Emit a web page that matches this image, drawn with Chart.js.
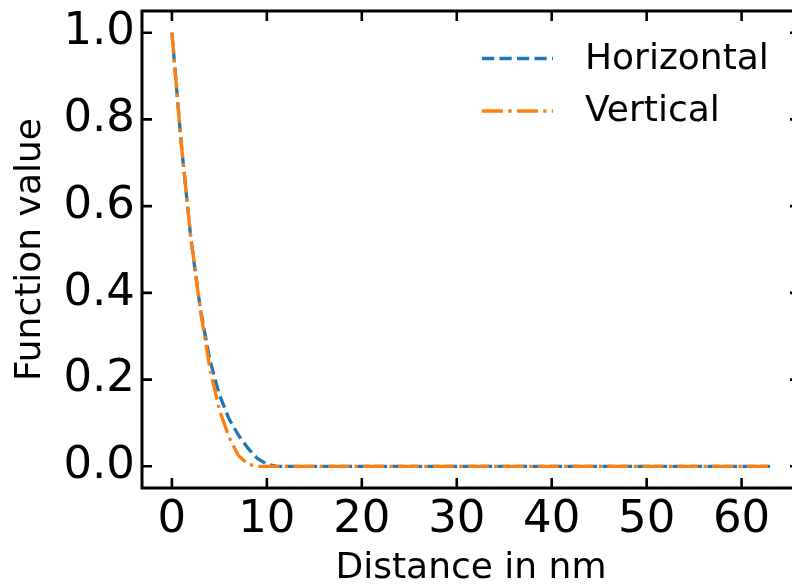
<!DOCTYPE html>
<html>
<head>
<meta charset="utf-8">
<script src="https://cdn.jsdelivr.net/npm/chart.js@4.4.1/dist/chart.umd.min.js"></script>
<style>
  html, body { margin: 0; padding: 0; background: #fff; overflow: hidden; }
  #wrap { position: relative; width: 802px; height: 586px; }
</style>
</head>
<body>
<div id="wrap"><canvas id="grafica"></canvas></div>
<script>
// Datos (distancia en nm, valor de la función)
const distance = [0, 1, 2, 3, 4, 5, 6, 7, 8, 9, 10, 11, 12, 13, 14, 15, 16, 17, 18, 19, 20,
  21, 22, 23, 24, 25, 26, 27, 28, 29, 30, 31, 32, 33, 34, 35, 36, 37, 38, 39, 40,
  41, 42, 43, 44, 45, 46, 47, 48, 49, 50, 51, 52, 53, 54, 55, 56, 57, 58, 59, 60,
  61, 62, 63];
const horizontal = [1.0, 0.74, 0.525, 0.362, 0.245, 0.165, 0.11, 0.072, 0.042, 0.018, 0.005, 0, 0, 0, 0, 0, 0, 0, 0, 0, 0,
  0, 0, 0, 0, 0, 0, 0, 0, 0, 0, 0, 0, 0, 0, 0, 0, 0, 0, 0, 0,
  0, 0, 0, 0, 0, 0, 0, 0, 0, 0, 0, 0, 0, 0, 0, 0, 0, 0, 0, 0,
  0, 0, 0];
const vertical = [1.0, 0.74, 0.525, 0.36, 0.225, 0.13, 0.068, 0.025, 0.005, 0, 0, 0, 0, 0, 0, 0, 0, 0, 0, 0, 0,
  0, 0, 0, 0, 0, 0, 0, 0, 0, 0, 0, 0, 0, 0, 0, 0, 0, 0, 0, 0,
  0, 0, 0, 0, 0, 0, 0, 0, 0, 0, 0, 0, 0, 0, 0, 0, 0, 0, 0, 0,
  0, 0, 0];
const seriesNames = ['Horizontal', 'Vertical'];
const xTicks = [0, 10, 20, 30, 40, 50, 60];
const yTicks = [0.0, 0.2, 0.4, 0.6, 0.8, 1.0];

const FONT = 'DejaVu Sans';
const BLUE = '#1f77b4';
const ORANGE = '#ff7f0e';
const LW = 3.3;
const DASH_H = [12.2, 5.3];
const DASH_V = [21, 5.3, 3.3, 5.3];

function toPoints(xs, ys) {
  return xs.map((x, i) => ({ x: x, y: ys[i] }));
}

// marco y marcas hacia dentro, estilo matplotlib
const framePlugin = {
  id: 'frame',
  afterDraw(chart) {
    const ctx = chart.ctx;
    const a = chart.chartArea;
    const sx = chart.scales.x, sy = chart.scales.y;
    const tl = 10;
    ctx.save();
    ctx.strokeStyle = '#000';
    ctx.lineWidth = 2.6;
    ctx.beginPath();
    xTicks.forEach(v => {
      const px = sx.getPixelForValue(v);
      ctx.moveTo(px, a.bottom); ctx.lineTo(px, a.bottom - tl);
      ctx.moveTo(px, a.top); ctx.lineTo(px, a.top + tl);
    });
    yTicks.forEach(v => {
      const py = sy.getPixelForValue(v);
      ctx.moveTo(a.left, py); ctx.lineTo(a.left + tl, py);
      ctx.moveTo(a.right, py); ctx.lineTo(a.right - tl, py);
    });
    ctx.stroke();
    ctx.lineWidth = 3;
    ctx.strokeRect(a.left, a.top, a.right - a.left, a.bottom - a.top);

    // leyenda
    const items = [
      { text: seriesNames[0], color: BLUE, dash: DASH_H, y: 58.5 },
      { text: seriesNames[1], color: ORANGE, dash: DASH_V, y: 111 }
    ];
    ctx.font = '36px "' + FONT + '"';
    ctx.textBaseline = 'middle';
    ctx.textAlign = 'left';
    items.forEach(it => {
      ctx.strokeStyle = it.color;
      ctx.lineWidth = LW;
      ctx.setLineDash(it.dash);
      ctx.beginPath();
      ctx.moveTo(482, it.y);
      ctx.lineTo(553, it.y);
      ctx.stroke();
      ctx.setLineDash([]);
      ctx.fillStyle = '#000';
      ctx.fillText(it.text, 585, it.y + 1);
    });
    ctx.restore();
  }
};

const ctx = document.getElementById('grafica').getContext('2d');
const myChart = new Chart(ctx, {
  type: 'line',
  data: {
    datasets: [
      {
        label: seriesNames[0],
        data: toPoints(distance, horizontal),
        borderColor: BLUE,
        borderWidth: LW,
        borderDash: DASH_H,
        pointRadius: 0,
        tension: 0,
        fill: false,
        order: 1
      },
      {
        label: seriesNames[1],
        data: toPoints(distance, vertical),
        borderColor: ORANGE,
        borderWidth: LW,
        borderDash: DASH_V,
        pointRadius: 0,
        tension: 0,
        fill: false,
        order: 0
      }
    ]
  },
  options: {
    responsive: true,
    maintainAspectRatio: false,
    animation: false,
    layout: { padding: { top: 11, right: 2, left: 0, bottom: 0 } },
    plugins: {
      legend: { display: false },
      tooltip: { enabled: false }
    },
    scales: {
      x: {
        type: 'linear',
        min: -3.15,
        max: 66.15,
        grid: { display: false, drawTicks: false },
        border: { display: false },
        afterBuildTicks: s => { s.ticks = xTicks.map(v => ({ value: v })); },
        afterFit: s => { s.height = 98; s.paddingLeft = 0; s.paddingRight = 0; },
        ticks: {
          color: '#000',
          padding: 5,
          maxRotation: 0,
          font: { family: FONT, size: 45 },
          callback: v => String(v)
        },
        title: {
          display: true,
          text: 'Distance in nm',
          color: '#000',
          font: { family: FONT, size: 36, lineHeight: 1 },
          padding: { top: 0, bottom: -1 }
        }
      },
      y: {
        min: -0.05,
        max: 1.05,
        grid: { display: false, drawTicks: false },
        border: { display: false },
        afterBuildTicks: s => { s.ticks = yTicks.map(v => ({ value: v })); },
        afterFit: s => { s.width = 142; s.paddingTop = 0; s.paddingBottom = 0; },
        ticks: {
          color: '#000',
          padding: 7,
          font: { family: FONT, size: 45 },
          callback: v => Number(v).toFixed(1)
        },
        title: {
          display: true,
          text: 'Function value',
          color: '#000',
          font: { family: FONT, size: 36, lineHeight: 1 },
          padding: { top: 13, bottom: 0 }
        }
      }
    }
  },
  plugins: [framePlugin]
});
</script>
</body>
</html>
